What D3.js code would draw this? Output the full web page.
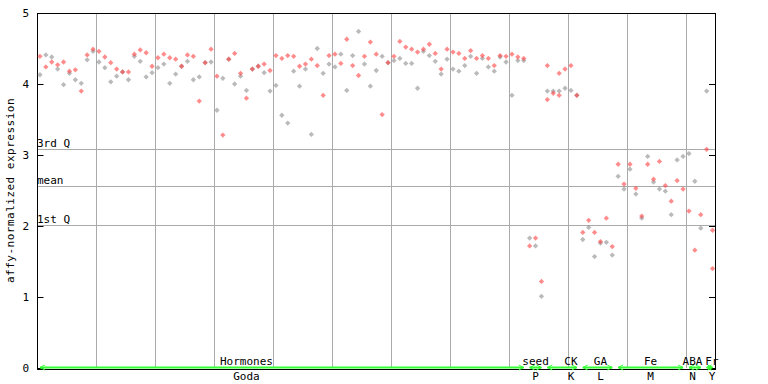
<!DOCTYPE html>
<html>
<head>
<meta charset="utf-8">
<script src="https://cdn.jsdelivr.net/npm/d3@7"></script>
<style>
  body { margin: 0; background: #fff; }
  text { font-family: "DejaVu Sans Mono", monospace; font-size: 11px; fill: #000; }
</style>
</head>
<body>
<svg id="chart" width="768" height="384"></svg>
<script>
// one value per sample column (115 columns)
const redVals = [4.39,4.24,4.31,4.27,4.31,4.18,4.20,3.90,4.41,4.49,4.46,4.38,4.30,4.21,4.17,4.17,4.42,4.48,4.44,4.25,
  4.37,4.42,4.37,4.35,4.25,4.41,4.39,3.76,4.30,4.49,4.11,3.28,4.35,4.43,4.15,3.80,4.21,4.25,4.28,4.19,
  4.40,4.36,4.40,4.39,4.25,4.28,4.35,4.26,3.84,4.40,4.42,4.29,4.63,4.26,4.12,4.39,4.59,4.42,3.57,4.30,
  4.39,4.60,4.52,4.49,4.45,4.49,4.56,4.43,4.21,4.49,4.45,4.43,4.36,4.47,4.36,4.40,4.36,4.26,4.40,4.39,
  4.42,4.38,4.36,1.72,1.83,1.22,4.26,3.87,4.15,4.21,4.26,3.84,1.91,2.08,1.91,1.78,2.11,1.71,2.87,2.59,
  2.87,2.53,2.14,2.87,2.66,2.91,2.57,2.35,2.64,2.52,2.21,1.66,2.16,3.08,1.94];
const greyVals = [4.13,4.41,4.38,4.21,3.99,4.15,4.06,4.01,4.34,4.46,4.31,4.23,4.03,4.11,4.17,4.06,4.39,4.32,4.10,4.16,
  4.23,4.28,4.01,4.14,4.25,4.32,4.06,4.10,4.30,4.31,3.63,4.08,4.35,4.00,4.11,3.91,4.21,4.25,4.16,3.90,
  3.98,3.56,3.45,4.18,3.97,4.21,3.29,4.50,4.15,4.28,4.24,4.42,3.91,4.40,4.74,4.28,3.97,4.19,4.39,4.30,
  4.33,4.36,4.29,4.29,3.94,4.46,4.40,4.32,4.14,4.35,4.21,4.18,4.26,4.39,4.15,4.36,4.24,4.18,4.38,4.31,
  3.84,4.33,4.33,1.83,1.72,1.01,3.90,3.90,3.90,3.94,3.91,3.84,1.81,1.98,1.57,1.76,1.77,1.59,2.70,2.52,
  2.80,2.45,2.11,2.98,2.62,2.52,2.49,2.16,2.93,2.98,3.02,2.63,1.97,3.90,null];
// extra replicates: [column, value]
const extraRed = [[86, 3.78], [88, 3.84], [114, 1.40]];

const quartiles = [
  { name: '3rd Q', v: 3.09 },
  { name: 'mean', v: 2.57 },
  { name: '1st Q', v: 2.02 }
];

// sample groups along the x axis: experiment (top), dataset (bottom), column range, label column
const groupTop = ['Hormones', 'seed', 'CK', 'GA', 'Fe', 'ABA', 'Fr'];
const groupBottom = ['Goda', 'P', 'K', 'L', 'M', 'N', 'Y'];
const groupFrom = [0, 83, 86, 92, 98, 110, 113];
const groupTo = [82, 85, 91, 97, 109, 112, 114];
const groupLabelAt = [35, 84, 90, 95, 103.5, 110.6, 113.9];

const yTicks = [0, 1, 2, 3, 4, 5];
const nCols = 115;

const svg = d3.select('#chart');
const margin = { left: 37, right: 768 - 715.5, top: 13, bottom: 384 - 368 };

const x = d3.scaleLinear().domain([0, nCols]).range([margin.left, 768 - margin.right]);
const y = d3.scaleLinear().domain([0, 5]).range([368, margin.top]);
const cx = i => x(i + 0.5);

// vertical grid every 10 columns
svg.append('g')
  .selectAll('line')
  .data(d3.range(10, nCols, 10))
  .join('line')
  .attr('x1', d => Math.round(x(d)) + 0.5)
  .attr('x2', d => Math.round(x(d)) + 0.5)
  .attr('y1', y(5))
  .attr('y2', y(0))
  .attr('stroke', '#aaa');

// quartile lines
const q = svg.append('g').selectAll('g').data(quartiles).join('g');
q.append('line')
  .attr('x1', x(0)).attr('x2', x(nCols))
  .attr('y1', d => Math.round(y(d.v)) + 0.5)
  .attr('y2', d => Math.round(y(d.v)) + 0.5)
  .attr('stroke', '#aaa');
q.append('text')
  .attr('x', x(0))
  .attr('y', d => Math.round(y(d.v)) - 2)
  .text(d => d.name);

// frame
svg.append('rect')
  .attr('x', x(0) + 0.5).attr('y', y(5) + 0.5)
  .attr('width', Math.round(x(nCols) - x(0)) - 1)
  .attr('height', Math.round(y(0) - y(5)) + 1)
  .attr('fill', 'none')
  .attr('stroke', '#000');

// y axis, ticks pointing inside
svg.append('g')
  .attr('transform', `translate(${x(0) + 0.5},0)`)
  .call(d3.axisRight(y).tickValues(yTicks).tickSize(6).tickFormat(''))
  .call(g => g.select('.domain').remove());
svg.append('g')
  .attr('transform', `translate(${x(nCols) - 0.5},0)`)
  .call(d3.axisLeft(y).tickValues(yTicks).tickSize(6).tickFormat(''))
  .call(g => g.select('.domain').remove());
svg.selectAll('.tick line').attr('stroke', '#000');

svg.append('g')
  .selectAll('text')
  .data(yTicks)
  .join('text')
  .attr('x', 29)
  .attr('y', d => y(d) + 4)
  .attr('text-anchor', 'end')
  .text(d => d);

svg.append('text')
  .attr('transform', `translate(14,${(y(0) + y(5)) / 2}) rotate(-90)`)
  .attr('text-anchor', 'middle')
  .attr('letter-spacing', 0.5)
  .text('affy-normalized expression');

// points
const diamond = d3.symbol(d3.symbolSquare, 14)();
const pts = [];
greyVals.forEach((v, i) => { if (v != null) pts.push({ i, v, c: 'grey' }); });
redVals.forEach((v, i) => pts.push({ i, v, c: 'red' }));
extraRed.forEach(([i, v]) => pts.push({ i, v, c: 'red' }));

svg.append('g')
  .selectAll('path')
  .data(pts)
  .join('path')
  .attr('d', diamond)
  .attr('transform', d => `translate(${cx(d.i)},${y(d.v)}) rotate(45)`)
  .attr('fill', d => d.c === 'red' ? '#ff4040' : '#8c8c8c')
  .attr('fill-opacity', 0.6);

// group bars with arrows
const groups = groupTop.map((t, k) => ({
  top: t, bottom: groupBottom[k], from: groupFrom[k], to: groupTo[k], at: groupLabelAt[k]
}));
const gg = svg.append('g').selectAll('g').data(groups).join('g');
gg.append('line')
  .attr('x1', d => cx(d.from)).attr('x2', d => cx(d.to))
  .attr('y1', 367.5).attr('y2', 367.5)
  .attr('stroke', '#33ff33').attr('stroke-width', 2);
gg.append('path')
  .attr('d', d => `M${cx(d.from) + 5},365 L${cx(d.from)},367.5 L${cx(d.from) + 5},370`)
  .attr('fill', 'none').attr('stroke', '#33ff33');
gg.append('path')
  .attr('d', d => `M${cx(d.to) - 5},365 L${cx(d.to)},367.5 L${cx(d.to) - 5},370`)
  .attr('fill', 'none').attr('stroke', '#33ff33');
gg.append('text')
  .attr('x', d => cx(d.at))
  .attr('y', 365)
  .attr('text-anchor', 'middle')
  .attr('font-size', d => d.top.length > 2 && d.to - d.from < 4 ? 10.5 : 11)
  .text(d => d.top);
gg.append('text')
  .attr('x', d => cx(d.at))
  .attr('y', 380)
  .attr('text-anchor', 'middle')
  .text(d => d.bottom);
</script>
</body>
</html>
